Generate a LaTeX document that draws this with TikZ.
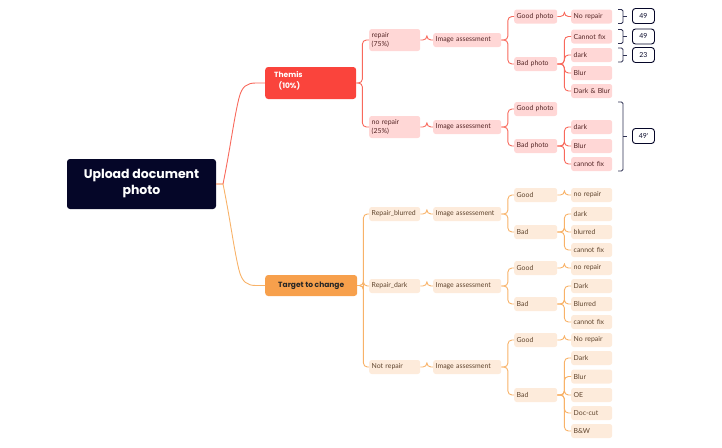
\documentclass[tikz,border=0pt]{standalone}
\usepackage{fontspec}
\setmainfont{Poppins}
\newfontfamily\smf{Lato}
\definecolor{redline}{RGB}{248,105,92}
\definecolor{themis}{RGB}{250,68,60}
\definecolor{redbox}{RGB}{255,215,214}
\definecolor{redtxt}{RGB}{85,38,38}
\definecolor{orline}{RGB}{248,178,104}
\definecolor{target}{RGB}{247,160,76}
\definecolor{orbox}{RGB}{253,235,219}
\definecolor{ortxt}{RGB}{95,68,45}
\definecolor{navy}{RGB}{5,6,40}
\definecolor{brk}{RGB}{45,48,82}
\tikzset{
  sm/.style={font=\smf\fontsize{6.9}{8.5}\selectfont},
  base/.style={sm, rounded corners=2.5pt, inner ysep=0pt, inner xsep=2.5pt, anchor=west, minimum height=14pt, align=left},
  rb/.style={base, fill=redbox, text=redtxt},
  ob/.style={base, fill=orbox, text=ortxt},
  ca/.style={text width=46pt},
  cb/.style={text width=63pt},
  cc/.style={text width=38pt},
  cd/.style={text width=36pt},
  rl/.style={draw=redline, line width=0.9pt, rounded corners=4pt},
  ol/.style={draw=orline, line width=0.9pt, rounded corners=4pt},
  bk/.style={draw=brk, line width=0.9pt, rounded corners=1.5pt},
  num/.style={sm, draw=navy, line width=0.9pt, rounded corners=3pt, fill=white, text=navy, minimum width=22pt, minimum height=15pt, inner sep=0pt, anchor=west},
}
\newcommand\lk[4]{\draw[#1] (#2.east) -- ++(#4,0) |- (#3.west);}
\newcommand\nw[1]{\mbox{#1}}
\begin{document}
\begin{tikzpicture}[x=1pt,y=-1pt]
\useasboundingbox (0,0) rectangle (722,447);
% root
\node[fill=navy, rounded corners=3pt, minimum width=149pt, minimum height=50pt, inner sep=0pt, text=white, align=center, font=\fontsize{12.5}{16}\selectfont\bfseries] (root) at (141.5,184) {Upload document\\photo};
\node[fill=themis, rounded corners=3pt, minimum width=91pt, minimum height=32pt, inner sep=0pt, anchor=west] (themis) at (265,83) {};
\node[anchor=north west, inner sep=0pt, text=white, align=left, font=\fontsize{7.5}{11}\selectfont\bfseries] (themist) at (274,71.5) {Themis\\\hspace*{4.5pt}(10\%)};
\node[fill=target, rounded corners=3pt, minimum width=92pt, minimum height=21pt, inner sep=0pt, anchor=west, text=black!85, font=\fontsize{7.5}{9}\selectfont\bfseries] (target) at (265,285.5) {Target to change};
\coordinate (rj) at (223,184);
\draw[draw=redline, line width=0.9pt] (root.east) -- (rj) .. controls (230,150) and (234,118) .. (239,98) .. controls (242,86) and (247,83) .. (256,83) -- (themis.west);
\draw[draw=orline, line width=0.9pt] (root.east) -- (rj) .. controls (230,218) and (234,250) .. (239,270) .. controls (242,282) and (247,285.5) .. (256,285.5) -- (target.west);
% ---------- red branch
\node[rb, ca, minimum height=22pt] (rp) at (369,40) {repair\\(75\%)};
\node[rb, ca, minimum height=22pt] (nrp) at (369,127) {no repair\\(25\%)};
\node[rb, cb] (ia1) at (433,40) {\nw{Image assessment}};
\node[rb, cb] (ia2) at (433,127) {\nw{Image assessment}};
\node[rb, cc] (gp1) at (514,16.5) {\nw{Good photo}};
\node[rb, cc] (bp1) at (514,64) {\nw{Bad photo}};
\node[rb, cc] (gp2) at (514,109) {\nw{Good photo}};
\node[rb, cc] (bp2) at (514,146) {\nw{Bad photo}};
\node[rb, cd] (nr1) at (571,16.5) {\nw{No repair}};
\node[rb, cd] (cf1) at (571,36.5) {\nw{Cannot fix}};
\node[rb, cd] (dk1) at (571,55) {dark};
\node[rb, cd] (bl1) at (571,73) {Blur};
\node[rb, cd] (db1) at (571,91) {\nw{Dark \& Blur}};
\node[rb, cd] (dk2) at (571,127) {dark};
\node[rb, cd] (bl2) at (571,146) {Blur};
\node[rb, cd] (cf2) at (571,164) {\nw{cannot fix}};
\lk{rl}{themis}{rp}{6}
\lk{rl}{themis}{nrp}{6}
\lk{rl}{rp}{ia1}{6.5}
\lk{rl}{nrp}{ia2}{6.5}
\lk{rl}{ia1}{gp1}{6.5}
\lk{rl}{ia1}{bp1}{6.5}
\lk{rl}{ia2}{gp2}{6.5}
\lk{rl}{ia2}{bp2}{6.5}
\lk{rl}{gp1}{nr1}{7}
\lk{rl}{bp1}{cf1}{7}
\lk{rl}{bp1}{dk1}{7}
\lk{rl}{bp1}{bl1}{7}
\lk{rl}{bp1}{db1}{7}
\lk{rl}{bp2}{dk2}{7}
\lk{rl}{bp2}{bl2}{7}
\lk{rl}{bp2}{cf2}{7}
% brackets and counts
\draw[bk] (618,9.5) -- (623,9.5) -- (623,23.5) -- (618,23.5);
\draw[bk] (623,16.5) -- (627,16.5);
\node[num] (n1) at (632,16) {49};
\draw[bk] (618,29.5) -- (623,29.5) -- (623,43.5) -- (618,43.5);
\draw[bk] (623,36.5) -- (627,36.5);
\node[num] (n2) at (632,36.5) {49};
\draw[bk] (618,48) -- (623,48) -- (623,62) -- (618,62);
\draw[bk] (623,55) -- (627,55);
\node[num] (n3) at (632,55) {23};
\draw[bk] (618,102) -- (623,102) -- (623,171) -- (618,171);
\draw[bk] (623,136) -- (627,136);
\node[num] (n4) at (632,136) {49'};
% ---------- orange branch
\node[ob, ca] (rbl) at (369,214) {\nw{Repair\_blurred}};
\node[ob, ca] (rdk) at (369,286) {\nw{Repair\_dark}};
\node[ob, ca] (ntr) at (369,367) {\nw{Not repair}};
\node[ob, cb] (ia3) at (433,214) {\nw{Image assessement}};
\node[ob, cb] (ia4) at (433,286) {\nw{Image assessment}};
\node[ob, cb] (ia5) at (433,367) {\nw{Image assessment}};
\node[ob, cc] (g3) at (514,195) {Good};
\node[ob, cc] (b3) at (514,232) {Bad};
\node[ob, cc] (g4) at (514,268) {Good};
\node[ob, cc] (b4) at (514,304) {Bad};
\node[ob, cc] (g5) at (514,340) {Good};
\node[ob, cc] (b5) at (514,395) {Bad};
\node[ob, cd] (l31) at (571,195) {\nw{no repair}};
\node[ob, cd] (l32) at (571,214) {dark};
\node[ob, cd] (l33) at (571,232) {blurred};
\node[ob, cd] (l34) at (571,250) {\nw{cannot fix}};
\node[ob, cd] (l41) at (571,268) {\nw{no repair}};
\node[ob, cd] (l42) at (571,286) {Dark};
\node[ob, cd] (l43) at (571,304) {Blurred};
\node[ob, cd] (l44) at (571,322) {\nw{cannot fix}};
\node[ob, cd] (l51) at (571,340) {\nw{No repair}};
\node[ob, cd] (l52) at (571,358) {Dark};
\node[ob, cd] (l53) at (571,376.5) {Blur};
\node[ob, cd] (l54) at (571,395) {OE};
\node[ob, cd] (l55) at (571,413) {Doc-cut};
\node[ob, cd] (l56) at (571,431) {B\&W};
\lk{ol}{target}{rbl}{6}
\lk{ol}{target}{rdk}{6}
\lk{ol}{target}{ntr}{6}
\lk{ol}{rbl}{ia3}{6.5}
\lk{ol}{rdk}{ia4}{6.5}
\lk{ol}{ntr}{ia5}{6.5}
\lk{ol}{ia3}{g3}{6.5}
\lk{ol}{ia3}{b3}{6.5}
\lk{ol}{ia4}{g4}{6.5}
\lk{ol}{ia4}{b4}{6.5}
\lk{ol}{ia5}{g5}{6.5}
\lk{ol}{ia5}{b5}{6.5}
\lk{ol}{g3}{l31}{7}
\lk{ol}{b3}{l32}{7}
\lk{ol}{b3}{l33}{7}
\lk{ol}{b3}{l34}{7}
\lk{ol}{g4}{l41}{7}
\lk{ol}{b4}{l42}{7}
\lk{ol}{b4}{l43}{7}
\lk{ol}{b4}{l44}{7}
\lk{ol}{g5}{l51}{7}
\lk{ol}{b5}{l52}{7}
\lk{ol}{b5}{l53}{7}
\lk{ol}{b5}{l54}{7}
\lk{ol}{b5}{l55}{7}
\lk{ol}{b5}{l56}{7}
\end{tikzpicture}
\end{document}
